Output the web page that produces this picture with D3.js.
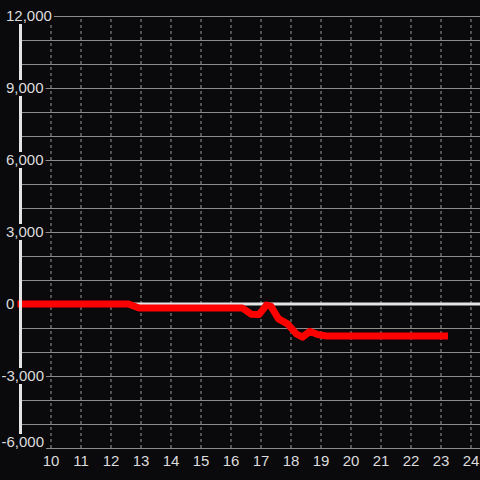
<!DOCTYPE html>
<html>
<head>
<meta charset="utf-8">
<script src="https://cdn.jsdelivr.net/npm/d3@7"></script>
<style>
body{margin:0;background:#0a090c;}
svg{display:block;}
text{font-family:"Liberation Sans",Arial,sans-serif;}
</style>
</head>
<body>
<div id="chart"></div>
<script>
// series
var hours=[8.9,12.6,12.95,16.4,16.7,16.95,17.2,17.35,17.6,17.9,18.2,18.4,18.65,18.9,19.2,23.25];
var values=[0,0,-170,-170,-430,-440,-40,-100,-620,-830,-1250,-1380,-1140,-1270,-1330,-1330];
var xTicks=[10,11,12,13,14,15,16,17,18,19,20,21,22,23,24];
var yTicks=[12000,9000,6000,3000,0,-3000,-6000];
var yGrid=[12000,11000,10000,9000,8000,7000,6000,5000,4000,3000,2000,1000,0,-1000,-2000,-3000,-4000,-5000,-6000];

var W=480,H=480;

var x=d3.scaleLinear().domain([9,9+460/30]).range([20.5,480.5]);
var y=d3.scaleLinear().domain([-6000,12000]).range([448,16]);

var svg=d3.select("#chart").append("svg").attr("width",W).attr("height",H);
svg.append("rect").attr("width",W).attr("height",H).attr("fill","#0a090c");

// horizontal grid
svg.append("g")
	.call(d3.axisRight(y).tickValues(yGrid).tickSize(W).tickFormat(""))
	.call(function(g){ g.select(".domain").remove(); })
	.selectAll("line")
	.attr("stroke","#8c8c8c")
	.attr("stroke-width",1)
	.attr("transform","translate(20,0)");

// vertical dashed grid
svg.append("g")
	.attr("transform","translate(0,"+y(-6000)+")")
	.call(d3.axisTop(x).tickValues(xTicks).tickSize(y(-6000)-y(12000)).tickFormat(""))
	.call(function(g){ g.select(".domain").remove(); })
	.selectAll("line")
	.attr("stroke","#9a9a9a")
	.attr("stroke-dasharray","3,3");

// zero line
svg.append("line")
	.attr("x1",x(9)).attr("x2",W)
	.attr("y1",y(0)).attr("y2",y(0))
	.attr("stroke","#e4e4e4").attr("stroke-width",3);

// series
var data=hours.map(function(h,i){ return {h:h,v:values[i]}; });
svg.append("path")
	.datum(data)
	.attr("fill","none")
	.attr("stroke","#ff0000")
	.attr("stroke-width",7)
	.attr("stroke-linejoin","round")
	.attr("d",d3.line().x(function(d){ return x(d.h); }).y(function(d){ return y(d.v); }));

// y axis line
svg.append("line")
	.attr("x1",20.5).attr("x2",20.5)
	.attr("y1",y(12000)).attr("y2",y(-6000))
	.attr("stroke","#e4e4e4").attr("stroke-width",3);

// y labels with dark boxes
var fmt=d3.format(",");
var yAxis=svg.append("g")
	.call(d3.axisLeft(y).tickValues(yTicks).tickSize(0).tickFormat(function(d){ return fmt(d).replace("\u2212","-"); }));
yAxis.select(".domain").remove();
// keep the bottom label inside the plot
yAxis.selectAll(".tick").attr("transform",function(d){ return "translate(0,"+Math.min(y(d),H-38)+")"; });
yAxis.selectAll("text")
	.attr("x",function(d){ return d<0 ? 1.5 : 6; })
	.attr("dy","0.36em")
	.attr("text-anchor","start")
	.attr("fill","#dcdcdc")
	.attr("font-size",15);
yAxis.selectAll(".tick").each(function(){
	var t=d3.select(this).select("text");
	var b=t.node().getBBox();
	d3.select(this).insert("rect","text")
		.attr("x",b.x-2).attr("y",-8)
		.attr("width",b.width+4).attr("height",16)
		.attr("fill","#0a090c");
});

// x labels
var xAxis=svg.append("g")
	.attr("transform","translate(0,"+y(-6000)+")")
	.call(d3.axisBottom(x).tickValues(xTicks).tickSize(0).tickFormat(d3.format("d")));
xAxis.select(".domain").remove();
xAxis.selectAll("text")
	.attr("y",17.5)
	.attr("dy",0)
	.attr("fill","#dcdcdc")
	.attr("font-size",15);
</script>
</body>
</html>
